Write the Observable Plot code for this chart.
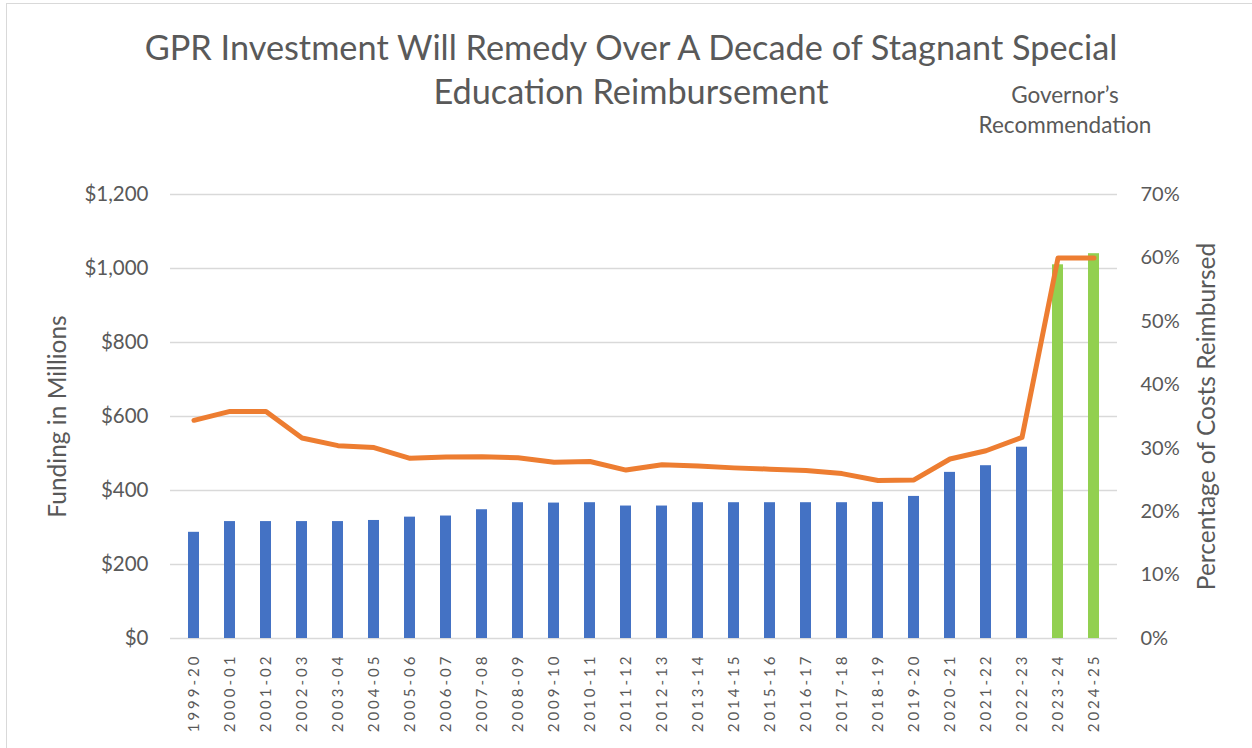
<!DOCTYPE html>
<html>
<head>
<meta charset="utf-8">
<script src="https://cdn.jsdelivr.net/npm/d3@7"></script>
<script src="https://cdn.jsdelivr.net/npm/@observablehq/plot@0.6"></script>
<style>
  html, body { margin: 0; padding: 0; background: white; width: 1252px; height: 748px; overflow: hidden; }
  body { position: relative; font-family: Lato, "Open Sans", sans-serif; color: #595959; }
  .t { position: absolute; white-space: nowrap; line-height: 1; transform: translateX(-50%); }
  #frame { position: absolute; left: 6px; top: 3px; width: 1400px; height: 900px; border: 1.5px solid #d9d9d9; z-index: 2; pointer-events: none; }
  #chart { position: absolute; left: 0; top: 150px; }
  #chart g[aria-label="x-axis tick label"] text { letter-spacing: 3px; }
</style>
</head>
<body>
<div id="frame"></div>
<div class="t" style="left:631px; top:30px; font-size:34.3px;">GPR Investment Will Remedy Over A Decade of Stagnant Special</div>
<div class="t" style="left:631px; top:74px; font-size:34.3px;">Education Reimbursement</div>
<div class="t" style="left:1065px; top:84px; font-size:22.5px;">Governor’s</div>
<div class="t" style="left:1065px; top:114px; font-size:22.5px;">Recommendation</div>
<div id="chart"></div>
<script>
const years = ["1999-20","2000-01","2001-02","2002-03","2003-04","2004-05","2005-06","2006-07","2007-08","2008-09","2009-10","2010-11","2011-12","2012-13","2013-14","2014-15","2015-16","2016-17","2017-18","2018-19","2019-20","2020-21","2021-22","2022-23","2023-24","2024-25"];
const funding = [287, 316, 316, 316, 316, 319, 328, 331, 348, 367, 366, 367, 358, 358, 367, 367, 367, 367, 367, 368, 384, 449, 467, 517, 1010, 1040];
const percentReimbursed = [34.4, 35.8, 35.8, 31.6, 30.4, 30.1, 28.4, 28.6, 28.65, 28.5, 27.8, 27.9, 26.55, 27.4, 27.2, 26.9, 26.7, 26.5, 26.0, 24.9, 25.0, 28.3, 29.6, 31.7, 60.0, 60.0];
const recommended = ["2023-24", "2024-25"];
const fundingTicks = [0, 200, 400, 600, 800, 1000, 1200];
const percentTicks = [0, 10, 20, 30, 40, 50, 60, 70];
const leftTitle = "Funding in Millions";
const rightTitle = "Percentage of Costs Reimbursed";

const fundingMax = 1200, percentMax = 70;
const k = fundingMax / percentMax;
const data = years.map((year, i) => ({
  year,
  funding: funding[i],
  pct: percentReimbursed[i],
  group: recommended.includes(year) ? "Governor’s Recommendation" : "Actual"
}));

const chart = Plot.plot({
  width: 1252,
  height: 598,
  marginTop: 44,
  marginBottom: 110,
  marginLeft: 170,
  marginRight: 135,
  style: { fontFamily: "Lato, 'Open Sans', sans-serif", color: "#595959", background: "transparent", overflow: "visible" },
  x: { domain: years, paddingInner: 0.7, paddingOuter: 0.35, axis: null },
  y: { domain: [0, fundingMax], axis: null },
  color: { domain: ["Actual", "Governor’s Recommendation"], range: ["#4472C4", "#92D050"] },
  marks: [
    Plot.gridY(fundingTicks, { stroke: "#d9d9d9", strokeOpacity: 1, strokeWidth: 1.5 }),
    Plot.barY(data, { x: "year", y: "funding", fill: "group" }),
    Plot.line(data, { x: "year", y: d => d.pct * k, stroke: "#ED7D31", strokeWidth: 5, strokeLinecap: "round", strokeLinejoin: "round" }),
    Plot.axisY(fundingTicks, { anchor: "left", tickSize: 0, tickPadding: 22, tickFormat: d => "$" + d3.format(",")(d), fontSize: 20.5, label: null }),
    Plot.axisY(percentTicks.map(p => p * k), { anchor: "right", tickSize: 0, tickPadding: 23, tickFormat: d => Math.round(d / k) + "%", fontSize: 20, label: null }),
    Plot.axisX({ tickSize: 0, tickRotate: -90, tickPadding: 15, fontSize: 15, label: null }),
    Plot.text([leftTitle], { text: d => d, frameAnchor: "left", textAnchor: "middle", lineAnchor: "middle", rotate: -90, dx: -112, fontSize: 24.5, fill: "#595959" }),
    Plot.text([rightTitle], { text: d => d, frameAnchor: "right", textAnchor: "middle", lineAnchor: "middle", rotate: -90, dx: 90, fontSize: 24.5, fill: "#595959" })
  ]
});
document.getElementById("chart").appendChild(chart);
</script>
</body>
</html>
